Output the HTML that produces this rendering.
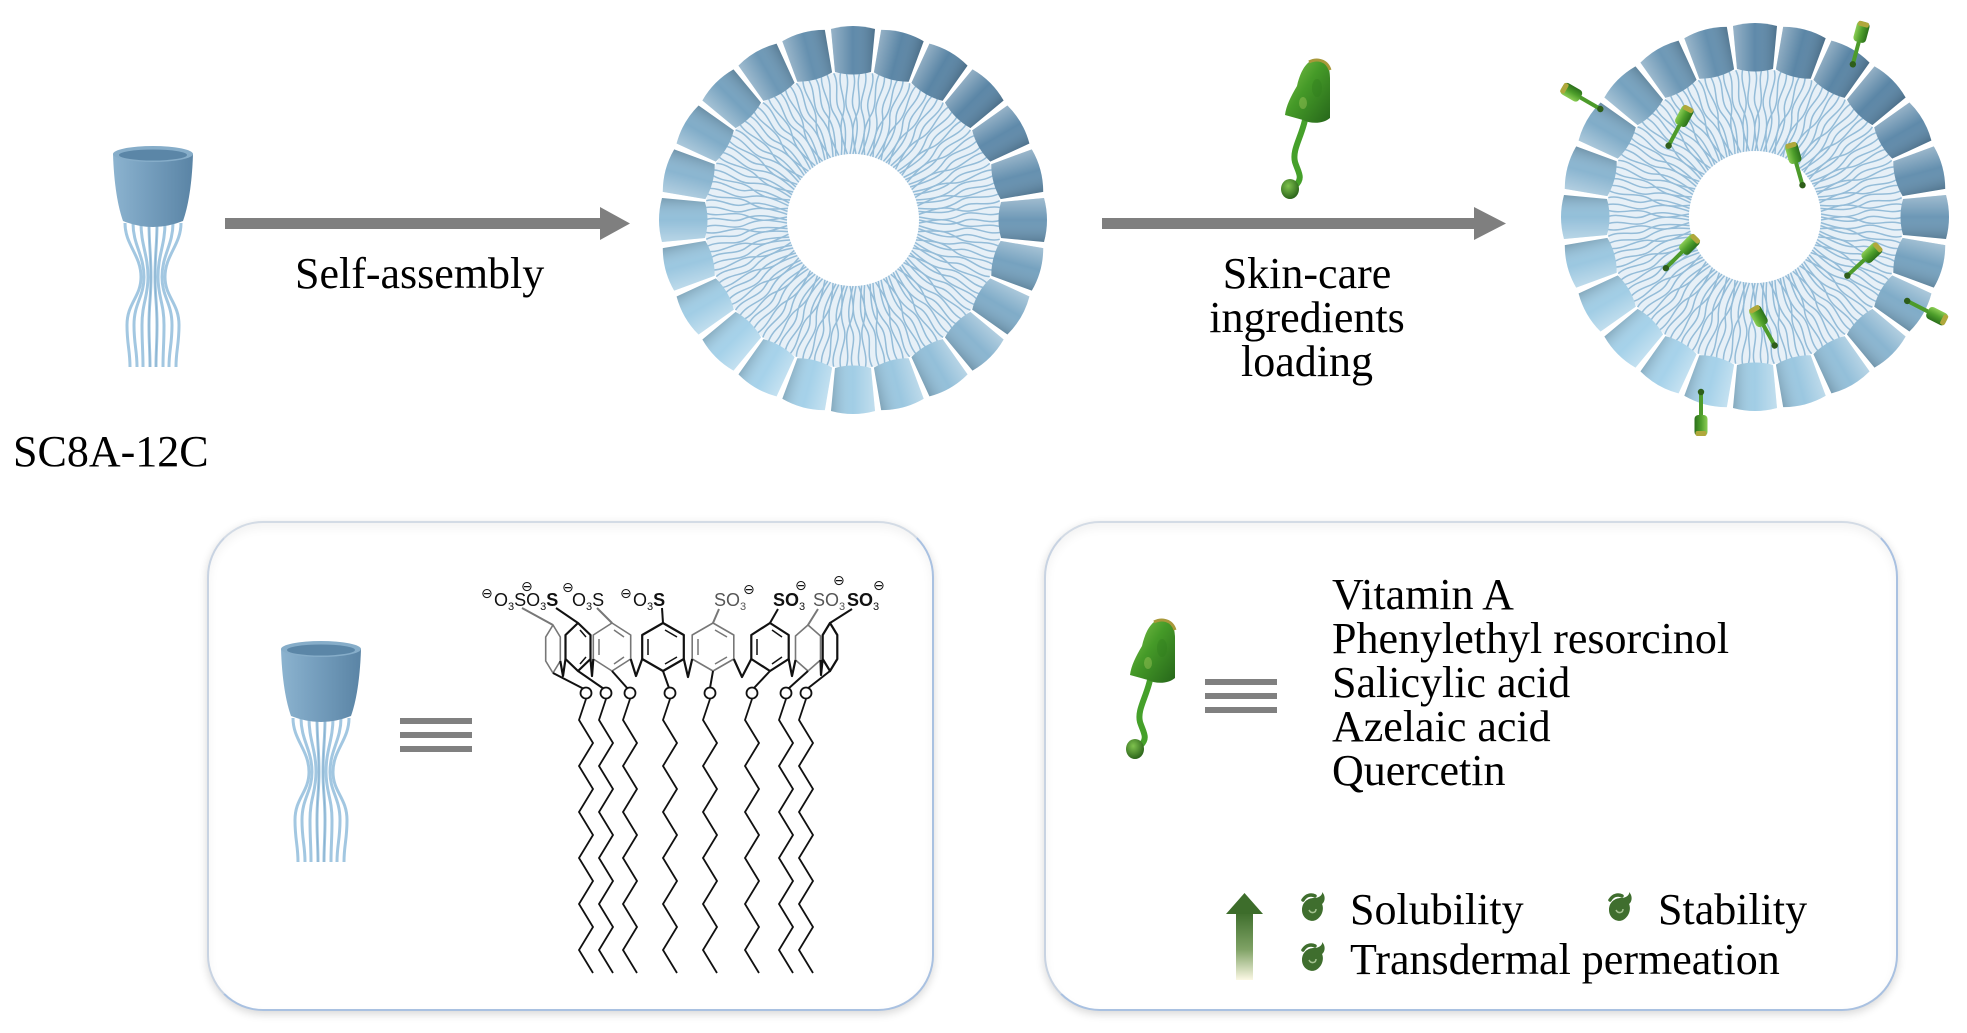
<!DOCTYPE html>
<html><head><meta charset="utf-8">
<style>
html,body{margin:0;padding:0;background:#fff;}
body{width:1967px;height:1033px;position:relative;overflow:hidden;}
.box{position:absolute;box-sizing:border-box;background:#fff;border:2px solid;border-color:#d3dbe5 #a9c1e1 #a9c1e1 #c8d3e2;border-radius:56px;box-shadow:0 3px 9px rgba(0,0,0,.16), inset 0 5px 10px rgba(0,0,0,.05);}
svg{position:absolute;left:0;top:0;}
</style></head><body>
<div class="box" style="left:207px;top:521px;width:727px;height:490px"></div>
<div class="box" style="left:1044px;top:521px;width:854px;height:490px"></div>
<svg width="1967" height="1033" viewBox="0 0 1967 1033" font-family="'Liberation Serif', serif">
<defs>
  <linearGradient id="cupsh" x1="0" y1="0" x2="1" y2="0">
    <stop offset="0" stop-color="#fff" stop-opacity=".35"/>
    <stop offset=".5" stop-color="#fff" stop-opacity="0"/>
    <stop offset="1" stop-color="#000" stop-opacity=".18"/>
  </linearGradient>
  <linearGradient id="cupg" x1="0" y1="0" x2="1" y2="0">
    <stop offset="0" stop-color="#8cb3cf"/>
    <stop offset=".4" stop-color="#77a0bf"/>
    <stop offset="1" stop-color="#5a84a5"/>
  </linearGradient>
  <linearGradient id="gg" x1="0" y1="0" x2="1" y2="1">
    <stop offset="0" stop-color="#86c64e"/>
    <stop offset=".45" stop-color="#459a28"/>
    <stop offset="1" stop-color="#26661a"/>
  </linearGradient>
  <radialGradient id="gb" cx=".4" cy=".35" r=".7">
    <stop offset="0" stop-color="#7fc24e"/>
    <stop offset="1" stop-color="#265f17"/>
  </radialGradient>
  <linearGradient id="gs" x1="0" y1="0" x2="1" y2="0">
    <stop offset="0" stop-color="#8ccd55"/>
    <stop offset=".5" stop-color="#4e9f2b"/>
    <stop offset="1" stop-color="#2b701b"/>
  </linearGradient>
  <linearGradient id="ga" x1="0" y1="0" x2="0" y2="1">
    <stop offset="0" stop-color="#3d6d2b"/>
    <stop offset=".55" stop-color="#7fa265"/>
    <stop offset="1" stop-color="#fbf8e4"/>
  </linearGradient>

  <g id="cup">
    <path d="M-22 -191 Q0 -197 22 -191 L18 -148 Q0 -143 -18 -148 Z"/>
    <path d="M-22 -191 Q0 -197 22 -191 L18 -148 Q0 -143 -18 -148 Z" fill="url(#cupsh)"/>
  </g>
  <g id="tl">
    <path d="M-7 -148 C-2 -133 -11 -121 -5 -108 S1 -86 -3 -66"/>
    <path d="M0 -148 C5 -135 -4 -122 1 -110 S5 -88 0 -66"/>
    <path d="M7 -148 C2 -133 10 -120 4 -106 S-1 -86 3 -66"/>
  </g>
  <g id="ves">
    <circle r="107" fill="none" stroke="#e7f0f7" stroke-width="82"/>
    <g stroke="#94bcd8" stroke-width="1.5" fill="none">
      <use href="#tl"/><use href="#tl" transform="rotate(7.5)"/><use href="#tl" transform="rotate(15)"/><use href="#tl" transform="rotate(22.5)"/>
      <use href="#tl" transform="rotate(30)"/><use href="#tl" transform="rotate(37.5)"/><use href="#tl" transform="rotate(45)"/><use href="#tl" transform="rotate(52.5)"/>
      <use href="#tl" transform="rotate(60)"/><use href="#tl" transform="rotate(67.5)"/><use href="#tl" transform="rotate(75)"/><use href="#tl" transform="rotate(82.5)"/>
      <use href="#tl" transform="rotate(90)"/><use href="#tl" transform="rotate(97.5)"/><use href="#tl" transform="rotate(105)"/><use href="#tl" transform="rotate(112.5)"/>
      <use href="#tl" transform="rotate(120)"/><use href="#tl" transform="rotate(127.5)"/><use href="#tl" transform="rotate(135)"/><use href="#tl" transform="rotate(142.5)"/>
      <use href="#tl" transform="rotate(150)"/><use href="#tl" transform="rotate(157.5)"/><use href="#tl" transform="rotate(165)"/><use href="#tl" transform="rotate(172.5)"/>
      <use href="#tl" transform="rotate(180)"/><use href="#tl" transform="rotate(187.5)"/><use href="#tl" transform="rotate(195)"/><use href="#tl" transform="rotate(202.5)"/>
      <use href="#tl" transform="rotate(210)"/><use href="#tl" transform="rotate(217.5)"/><use href="#tl" transform="rotate(225)"/><use href="#tl" transform="rotate(232.5)"/>
      <use href="#tl" transform="rotate(240)"/><use href="#tl" transform="rotate(247.5)"/><use href="#tl" transform="rotate(255)"/><use href="#tl" transform="rotate(262.5)"/>
      <use href="#tl" transform="rotate(270)"/><use href="#tl" transform="rotate(277.5)"/><use href="#tl" transform="rotate(285)"/><use href="#tl" transform="rotate(292.5)"/>
      <use href="#tl" transform="rotate(300)"/><use href="#tl" transform="rotate(307.5)"/><use href="#tl" transform="rotate(315)"/><use href="#tl" transform="rotate(322.5)"/>
      <use href="#tl" transform="rotate(330)"/><use href="#tl" transform="rotate(337.5)"/><use href="#tl" transform="rotate(345)"/><use href="#tl" transform="rotate(352.5)"/>
    </g>
    <use href="#cup" fill="#5f8aaa"/>
    <use href="#cup" fill="#5b86a6" transform="rotate(15)"/>
    <use href="#cup" fill="#5a85a5" transform="rotate(30)"/>
    <use href="#cup" fill="#5b86a6" transform="rotate(45)"/>
    <use href="#cup" fill="#5f8aaa" transform="rotate(60)"/>
    <use href="#cup" fill="#6590af" transform="rotate(75)"/>
    <use href="#cup" fill="#6d98b6" transform="rotate(90)"/>
    <use href="#cup" fill="#76a2bf" transform="rotate(105)"/>
    <use href="#cup" fill="#80acc8" transform="rotate(120)"/>
    <use href="#cup" fill="#8ab5d0" transform="rotate(135)"/>
    <use href="#cup" fill="#93bfd9" transform="rotate(150)"/>
    <use href="#cup" fill="#9bc7e0" transform="rotate(165)"/>
    <use href="#cup" fill="#a1cde5" transform="rotate(180)"/>
    <use href="#cup" fill="#a5d1e9" transform="rotate(195)"/>
    <use href="#cup" fill="#a6d2ea" transform="rotate(210)"/>
    <use href="#cup" fill="#a5d1e9" transform="rotate(225)"/>
    <use href="#cup" fill="#a1cde5" transform="rotate(240)"/>
    <use href="#cup" fill="#9bc7e0" transform="rotate(255)"/>
    <use href="#cup" fill="#93bfd9" transform="rotate(270)"/>
    <use href="#cup" fill="#8ab5d0" transform="rotate(285)"/>
    <use href="#cup" fill="#80acc8" transform="rotate(300)"/>
    <use href="#cup" fill="#76a2bf" transform="rotate(315)"/>
    <use href="#cup" fill="#6d98b6" transform="rotate(330)"/>
    <use href="#cup" fill="#6590af" transform="rotate(345)"/>
  </g>

  <g id="amph">
    <g fill="none" stroke="#a2c7e1" stroke-width="3">
      <path d="M13 78 C13 100 29 110 29 132 C29 152 15 158 15 180 C15 200 18 205 18 222"/>
      <path d="M21 78 C21 100 32 110 32 132 C32 152 22 158 22 180 C22 200 25 205 25 222"/>
      <path d="M29 78 C29 100 36 110 36 132 C36 152 30 158 30 180 C30 200 31 205 31 222"/>
      <path d="M37 78 C37 100 39 110 39 132 C39 152 37 158 37 180 C37 200 38 205 38 222"/>
      <path d="M45 78 C45 100 43 110 43 132 C43 152 45 158 45 180 C45 200 44 205 44 222"/>
      <path d="M53 78 C53 100 46 110 46 132 C46 152 52 158 52 180 C52 200 51 205 51 222"/>
      <path d="M61 78 C61 100 50 110 50 132 C50 152 60 158 60 180 C60 200 57 205 57 222"/>
      <path d="M69 78 C69 100 53 110 53 132 C53 152 67 158 67 180 C67 200 64 205 64 222"/>
    </g>
    <g fill="none" stroke="#7ea9c8" stroke-width="1" opacity=".7">
      <path d="M37 78 C37 100 39 110 39 132 C39 152 37 158 37 180 C37 200 38 205 38 222"/>
      <path d="M45 78 C45 100 43 110 43 132 C43 152 45 158 45 180 C45 200 44 205 44 222"/>
    </g>
    <path d="M1 9 C2 40 6 62 11 76 Q41 88 71 76 C76 62 80 40 81 9 Z" fill="url(#cupg)"/>
    <ellipse cx="41" cy="9" rx="40" ry="8" fill="#86adc9"/>
    <ellipse cx="41" cy="10" rx="34" ry="5.5" fill="#5b86a7"/>
  </g>

  <g id="gm">
    <path d="M32 62 C28 80 19 92 22 104 C25 114 31 120 22 128" fill="none" stroke="#45a02a" stroke-width="6" stroke-linecap="round"/>
    <path d="M24 28 C28 10 36 0 46 1 C54 2 57 10 57 20 L57 60 C50 66 38 66 30 62 L12 57 C13 48 18 38 24 28 Z" fill="url(#gg)"/>
    <path d="M36 4 C44 0 54 2 57 12" fill="none" stroke="#a8983a" stroke-width="3"/>
    <ellipse cx="44" cy="30" rx="5" ry="9" fill="#2f7a1e" opacity=".35"/>
    <ellipse cx="30" cy="45" rx="4" ry="6" fill="#b9d86a" opacity=".35"/>
    <ellipse cx="17" cy="131" rx="9" ry="10" fill="url(#gb)"/>
  </g>

  <g id="sm">
    <line x1="0" y1="-4" x2="0" y2="19" stroke="#4d9b2b" stroke-width="4"/>
    <rect x="-6.5" y="-24" width="13" height="21" rx="4" fill="url(#gs)"/>
    <rect x="-5.5" y="-24" width="11" height="5" rx="2" fill="#b0a83c"/>
    <circle cx="0" cy="20" r="3.2" fill="#2e5e1a"/>
  </g>

  <g id="ic">
    <path d="M-10 2 C-10 -6 -4 -10 2 -10 C8 -10 11 -14 10 -16 C14 -12 13 -6 10 -4 C12 0 11 8 4 12 C-2 15 -10 10 -10 2 Z" fill="#3f6e2e"/>
    <path d="M-9 -8 C-6 -13 -1 -14 3 -12" stroke="#3f6e2e" stroke-width="3.5" fill="none" stroke-linecap="round"/>
    <path d="M-3 2 C-1 6 4 5 4 1" stroke="#a4c290" stroke-width="1.5" fill="none"/>
  </g>
</defs>

<!-- top-left molecule -->
<use href="#amph" x="112" y="145"/>
<text x="13" y="466" font-size="44">SC8A-12C</text>

<!-- arrow 1 -->
<rect x="225" y="218" width="377" height="11" fill="#7f7f7f"/>
<polygon points="600,207 630,223.5 600,240" fill="#7f7f7f"/>
<text x="295" y="288" font-size="44">Self-assembly</text>

<!-- vesicle 1 -->
<use href="#ves" transform="translate(853,220)"/>

<!-- green molecule + arrow 2 -->
<use href="#gm" x="1273" y="58"/>
<rect x="1102" y="218" width="374" height="11" fill="#7f7f7f"/>
<polygon points="1474,207 1506,223.5 1474,240" fill="#7f7f7f"/>
<g font-size="44" text-anchor="middle">
  <text x="1307" y="288">Skin-care</text>
  <text x="1307" y="332">ingredients</text>
  <text x="1307" y="376">loading</text>
</g>

<!-- vesicle 2 -->
<use href="#ves" transform="translate(1755,217)"/>
<use href="#sm" transform="translate(1858,45) rotate(15)"/>
<use href="#sm" transform="translate(1583,99) rotate(-60)"/>
<use href="#sm" transform="translate(1678,128) rotate(28)"/>
<use href="#sm" transform="translate(1797,166) rotate(-16)"/>
<use href="#sm" transform="translate(1680,254) rotate(45)"/>
<use href="#sm" transform="translate(1862,262) rotate(47)"/>
<use href="#sm" transform="translate(1925,310) rotate(117)"/>
<use href="#sm" transform="translate(1765,328) rotate(-29)"/>
<use href="#sm" transform="translate(1701,412) rotate(180)"/>

<!-- left box content -->
<use href="#amph" x="280" y="640"/>
<g fill="#808080">
  <rect x="400" y="718" width="72" height="6"/>
  <rect x="400" y="732" width="72" height="6"/>
  <rect x="400" y="746" width="72" height="6"/>
</g>

<!-- chemical structure -->
<g font-family="'Liberation Sans', sans-serif" font-size="18" fill="#111">
  <text x="494" y="606">O<tspan font-size="11" dy="4">3</tspan><tspan dy="-4">SO</tspan><tspan font-size="11" dy="4">3</tspan><tspan dy="-4" font-weight="bold">S</tspan></text>
  <text x="572" y="606">O<tspan font-size="11" dy="4">3</tspan><tspan dy="-4">S</tspan></text>
  <text x="633" y="606">O<tspan font-size="11" dy="4">3</tspan><tspan dy="-4" font-weight="bold">S</tspan></text>
  <text x="714" y="606" fill="#555">SO<tspan font-size="11" dy="4">3</tspan></text>
  <text x="773" y="606" font-weight="bold">SO<tspan font-size="11" dy="4" font-weight="normal">3</tspan></text>
  <text x="813" y="606" fill="#555">SO<tspan font-size="11" dy="4">3</tspan></text>
  <text x="847" y="606" font-weight="bold">SO<tspan font-size="11" dy="4" font-weight="normal">3</tspan></text>
</g>
<g font-family="'DejaVu Sans', sans-serif" font-size="14" fill="#111">
  <text x="481" y="598">⊖</text>
  <text x="521" y="591">⊖</text>
  <text x="562" y="592">⊖</text>
  <text x="620" y="598">⊖</text>
  <text x="743" y="594">⊖</text>
  <text x="795" y="590">⊖</text>
  <text x="833" y="585">⊖</text>
  <text x="873" y="590">⊖</text>
</g>
<!-- S-ring bonds -->
<g stroke="#111" stroke-width="2" fill="none">
  <line x1="522" y1="608" x2="553" y2="625" stroke="#777"/>
  <line x1="556" y1="608" x2="578" y2="623"/>
  <line x1="597" y1="608" x2="612" y2="623" stroke="#777"/>
  <line x1="662" y1="608" x2="663" y2="623"/>
  <line x1="719" y1="609" x2="713" y2="623" stroke="#777"/>
  <line x1="778" y1="609" x2="770" y2="623"/>
  <line x1="818" y1="609" x2="808" y2="625" stroke="#777"/>
  <line x1="852" y1="609" x2="830" y2="623"/>
</g>
<!-- rings -->
<g fill="none" stroke-linejoin="round">
  <polygon points="553,625 560.3,637 560.3,661 553,673 545.7,661 545.7,637" stroke="#777" stroke-width="1.6"/>
  <polygon points="578,623 590.5,635 590.5,659 578,671 565.5,659 565.5,635" stroke="#111" stroke-width="2.2"/>
  <polygon points="612,623 630.7,635 630.7,659 612,671 593.3,659 593.3,635" stroke="#777" stroke-width="1.6"/>
  <polygon points="663,623 683.8,635 683.8,659 663,671 642.2,659 642.2,635" stroke="#111" stroke-width="2.2"/>
  <polygon points="713,623 733.8,635 733.8,659 713,671 692.2,659 692.2,635" stroke="#777" stroke-width="1.6"/>
  <polygon points="770,623 788.7,635 788.7,659 770,671 751.3,659 751.3,635" stroke="#111" stroke-width="2.2"/>
  <polygon points="808,625 820.5,636 820.5,660 808,671 795.5,660 795.5,636" stroke="#777" stroke-width="1.6"/>
  <polygon points="830,623 837.3,635 837.3,659 830,671 822.7,659 822.7,635" stroke="#111" stroke-width="2.2"/>
</g>
<g stroke-width="1.5">
  <g stroke="#777"><line x1="614" y1="630" x2="624" y2="637"/><line x1="624" y1="657" x2="614" y2="664"/><line x1="599" y1="655" x2="599" y2="639"/></g>
  <g stroke="#111"><line x1="665" y1="630" x2="677" y2="637"/><line x1="677" y1="657" x2="665" y2="664"/><line x1="648" y1="655" x2="648" y2="639"/></g>
  <g stroke="#777"><line x1="715" y1="630" x2="727" y2="637"/><line x1="727" y1="657" x2="715" y2="664"/><line x1="698" y1="655" x2="698" y2="639"/></g>
  <g stroke="#111"><line x1="772" y1="630" x2="782" y2="637"/><line x1="782" y1="657" x2="772" y2="664"/><line x1="757" y1="655" x2="757" y2="639"/></g>
  <g stroke="#111"><line x1="580" y1="630" x2="586" y2="637"/><line x1="586" y1="657" x2="580" y2="664"/></g>
</g>
<!-- bridges -->
<g stroke="#111" stroke-width="2.2" fill="none" stroke-linejoin="round">
  <polyline points="560.3,661 563,676 565.5,659"/>
  <polyline points="590.5,659 592,676 593.3,659"/>
  <polyline points="630.7,659 636,676 642.2,659"/>
  <polyline points="683.8,659 688,677 692.2,659"/>
  <polyline points="733.8,659 742,677 751.3,659"/>
  <polyline points="788.7,659 792,676 795.5,660"/>
  <polyline points="820.5,660 821,675 822.7,659"/>
</g>
<!-- ring to O bonds -->
<g stroke="#111" stroke-width="2">
  <line x1="553" y1="673" x2="584" y2="689"/>
  <line x1="578" y1="671" x2="604" y2="689"/>
  <line x1="612" y1="671" x2="628" y2="689"/>
  <line x1="663" y1="671" x2="669" y2="688"/>
  <line x1="713" y1="671" x2="710" y2="688"/>
  <line x1="770" y1="671" x2="754" y2="688"/>
  <line x1="808" y1="671" x2="788" y2="689"/>
  <line x1="830" y1="671" x2="807" y2="689"/>
</g>
<g fill="#fff" stroke="#111" stroke-width="1.8">
  <circle cx="586" cy="693" r="5.5"/><circle cx="606" cy="693" r="5.5"/><circle cx="630" cy="693" r="5.5"/><circle cx="670" cy="693" r="5.5"/>
  <circle cx="710" cy="693" r="5.5"/><circle cx="752" cy="693" r="5.5"/><circle cx="786" cy="693" r="5.5"/><circle cx="806" cy="693" r="5.5"/>
</g>
<!-- alkyl chains -->
<g fill="none" stroke="#111" stroke-width="1.8" stroke-linejoin="miter">
  <polyline points="586,699 579,720 593,743 579,766 593,789 579,812 593,835 579,858 593,881 579,904 593,927 579,950 593,973"/>
  <polyline points="606,699 599,720 613,743 599,766 613,789 599,812 613,835 599,858 613,881 599,904 613,927 599,950 613,973"/>
  <polyline points="630,699 623,720 637,743 623,766 637,789 623,812 637,835 623,858 637,881 623,904 637,927 623,950 637,973"/>
  <polyline points="670,699 663,720 677,743 663,766 677,789 663,812 677,835 663,858 677,881 663,904 677,927 663,950 677,973"/>
  <polyline points="710,699 703,720 717,743 703,766 717,789 703,812 717,835 703,858 717,881 703,904 717,927 703,950 717,973"/>
  <polyline points="752,699 745,720 759,743 745,766 759,789 745,812 759,835 745,858 759,881 745,904 759,927 745,950 759,973"/>
  <polyline points="786,699 779,720 793,743 779,766 793,789 779,812 793,835 779,858 793,881 779,904 793,927 779,950 793,973"/>
  <polyline points="806,699 799,720 813,743 799,766 813,789 799,812 813,835 799,858 813,881 799,904 813,927 799,950 813,973"/>
</g>

<!-- right box content -->
<use href="#gm" x="1118" y="618"/>
<g fill="#808080">
  <rect x="1205" y="679" width="72" height="6"/>
  <rect x="1205" y="693" width="72" height="6"/>
  <rect x="1205" y="707" width="72" height="6"/>
</g>
<g font-size="44">
  <text x="1332" y="609">Vitamin A</text>
  <text x="1332" y="653">Phenylethyl resorcinol</text>
  <text x="1332" y="697">Salicylic acid</text>
  <text x="1332" y="741">Azelaic acid</text>
  <text x="1332" y="785">Quercetin</text>
</g>
<rect x="1236" y="912" width="17" height="68" fill="url(#ga)"/>
<polygon points="1226,914 1244.5,893 1263,914" fill="#3d6d2b"/>
<use href="#ic" x="1312" y="908"/>
<use href="#ic" x="1619" y="908"/>
<use href="#ic" x="1312" y="958"/>
<g font-size="44">
  <text x="1350" y="924">Solubility</text>
  <text x="1658" y="924">Stability</text>
  <text x="1350" y="974">Transdermal permeation</text>
</g>
</svg>
</body></html>
